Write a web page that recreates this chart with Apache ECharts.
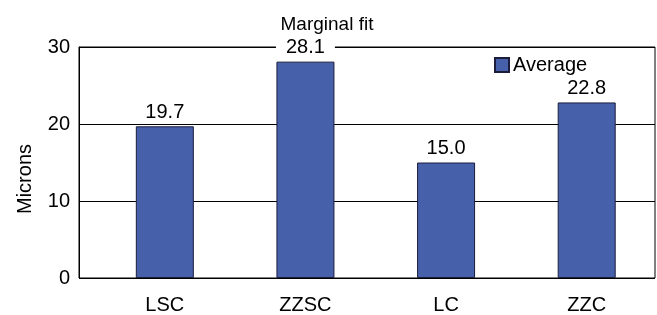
<!DOCTYPE html>
<html>
<head>
<meta charset="utf-8">
<script src="https://cdn.jsdelivr.net/npm/echarts@6/dist/echarts.min.js"></script>
<style>
html,body{margin:0;padding:0;background:#fff}
#chart{width:657px;height:315px}
</style>
</head>
<body>
<div id="chart"></div>
<script>
var categories = ['LSC', 'ZZSC', 'LC', 'ZZC'];
var averages = [19.7, 28.1, 15.0, 22.8];
var yTicks = [0, 10, 20, 30];

var myChart = echarts.init(document.getElementById('chart'));
var font = 'Liberation Sans, Arial, sans-serif';

var option = {
	animation: false,
	title: {
		text: 'Marginal fit',
		left: 322,
		top: 10,
		textAlign: 'center',
		textStyle: { fontFamily: font, fontSize: 19, fontWeight: 'normal', color: '#000' }
	},
	legend: {
		data: ['Average'],
		left: 494,
		top: 50,
		icon: 'rect',
		itemWidth: 14,
		itemHeight: 14,
		itemGap: 5,
		padding: [5, 5, 5, 0],
		textStyle: { fontFamily: font, fontSize: 20, color: '#000', padding: [0, 0, 0, -1] }
	},
	grid: [
		// frame with gridlines
		{ left: 79, right: 2, top: 47, bottom: 37, show: true, borderColor: '#000', borderWidth: 1 },
		// bars
		{ left: 94.5, width: 564, top: 47, bottom: 37 }
	],
	xAxis: [{
		gridIndex: 0,
		type: 'category',
		data: categories,
		show: false
	}, {
		gridIndex: 1,
		type: 'category',
		data: categories,
		axisLine: { show: false },
		axisTick: { show: false },
		axisLabel: { margin: 17, fontFamily: font, fontSize: 20, color: '#000' }
	}],
	yAxis: [{
		gridIndex: 0,
		type: 'value',
		min: yTicks[0],
		max: yTicks[yTicks.length - 1],
		interval: 10,
		name: 'Microns',
		nameLocation: 'middle',
		nameGap: 44,
		nameTextStyle: { fontFamily: font, fontSize: 20, color: '#000', padding: [0, 33, 0, 0] },
		axisLine: { show: true, lineStyle: { color: '#000' } },
		axisTick: { show: false },
		axisLabel: { margin: 9, fontFamily: font, fontSize: 20, color: '#000' },
		splitLine: { show: true, lineStyle: { color: '#000', width: 1 } }
	}, {
		gridIndex: 1,
		type: 'value',
		min: yTicks[0],
		max: yTicks[yTicks.length - 1],
		show: false
	}],
	series: [{
		name: 'Average',
		type: 'bar',
		xAxisIndex: 1,
		yAxisIndex: 1,
		barWidth: 58,
		z: 5,
		itemStyle: { color: '#4660aa', borderColor: '#1c1c3c', borderWidth: 1 },
		label: {
			show: true,
			position: 'top',
			distance: 4,
			fontFamily: font,
			fontSize: 20,
			color: '#000',
			backgroundColor: '#fff',
			padding: [0, 10, 0, 10],
			formatter: function (p) { return p.value.toFixed(1); }
		},
		data: averages
	}]
};

myChart.setOption(option);
window.addEventListener('resize', function () {
	myChart.resize();
});
</script>
</body>
</html>
